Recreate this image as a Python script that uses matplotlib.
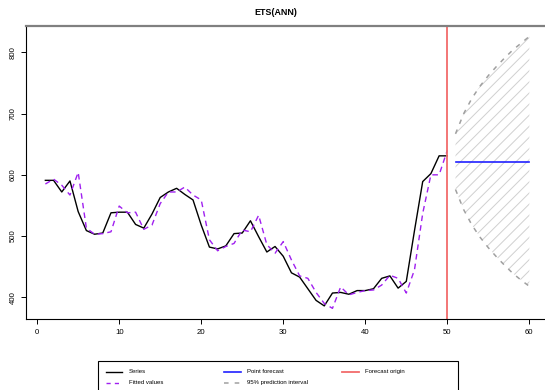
import numpy as np
import matplotlib
matplotlib.use("Agg")
import matplotlib.pyplot as plt
from matplotlib.lines import Line2D
from matplotlib.patches import Rectangle

plt.rcParams["font.family"] = ["Liberation Sans", "DejaVu Sans"]
plt.rcParams["hatch.linewidth"] = 0.7

# observed series, t = 1..50
series = [591, 591, 572, 590, 540, 509, 503, 505, 538, 539,
          539, 519, 513, 536, 563, 572, 578, 568, 559, 518,
          482, 479, 484, 504, 505, 525, 499, 474, 483, 467,
          440, 433, 414, 395, 386, 407, 408, 405, 411, 411,
          414, 431, 435, 415, 426, 509, 589, 602, 631, 631]
fitted = [585, 593, 583, 567, 604, 513, 503, 504, 507, 549,
          538, 539, 511, 518, 553, 572, 572, 580, 567, 559,
          494, 476, 483, 488, 510, 507, 534, 486, 472, 491,
          461, 435, 431, 408, 390, 382, 417, 404, 408, 411,
          412, 420, 436, 431, 407, 445, 537, 600, 600, 640]

# forecast horizon t = 51..60
point_fc = [621] * 10
upper = [667, 700, 725, 745, 762, 777, 791, 804, 815, 826]
lower = [576, 543, 518, 498, 481, 466, 452, 439, 428, 418]
origin = 50

t_in = np.arange(1, len(series) + 1)
t_fc = np.arange(origin + 1, origin + 1 + len(point_fc))

W, H = 545, 390
fig = plt.figure(figsize=(W / 100, H / 100), dpi=100)
ax = fig.add_axes([26 / W, (H - 319) / H, (548.7 - 26) / W, 293 / H])

ax.fill_between(t_fc, lower, upper, facecolor="none", edgecolor="#d0d0d0",
                hatch="///", linewidth=0)
ax.plot(t_fc, upper, color="#a0a0a0", lw=1.1, ls=(0, (3, 4)))
ax.plot(t_fc, lower, color="#a0a0a0", lw=1.1, ls=(0, (3, 4)))
ax.plot(t_fc, point_fc, color="#2020ff", lw=1.2)
ax.plot(t_in, series, color="black", lw=1.0)
ax.plot(t_in, fitted, color="#a020f0", lw=1.0, ls=(0, (4, 3)))
ax.axvline(origin, color="#f26b6b", lw=1.3)

ax.set_xlim(-1.36, 62.36)
ax.set_ylim(364.6, 843)
ax.set_xticks(np.arange(0, 61, 10))
ax.set_yticks(np.arange(400, 801, 100))
ax.tick_params(axis="x", labelsize=5.6, length=3.6, width=0.7, pad=3.5)
ax.tick_params(axis="y", labelsize=5.6, length=3.6, width=0.7, pad=3)
for lab in ax.get_yticklabels():
    lab.set_rotation(90)
    lab.set_va("center")
ax.spines["right"].set_visible(False)
ax.spines["top"].set_color("#808080")
ax.spines["top"].set_linewidth(1.6)
ax.spines["left"].set_linewidth(0.8)
ax.spines["bottom"].set_linewidth(0.8)

fig.text(276 / W, 1 - 12.3 / H, "ETS(ANN)", fontsize=6.4, fontweight="bold",
         ha="center", va="center")

# legend box (cut off at the bottom like the reference)
def fx(px):
    return px / W

def fy(py):
    return 1 - py / H

fig.add_artist(Rectangle((fx(98.3), fy(400)), fx(457.7) - fx(98.3), fy(361) - fy(400),
                         transform=fig.transFigure, facecolor="white",
                         edgecolor="black", lw=0.8, clip_on=False))
entries = [
    ("Series", dict(color="black", lw=1.0), 106, 371.7),
    ("Fitted values", dict(color="#a020f0", lw=1.0, ls=(0, (3, 3))), 106, 382.7),
    ("Point forecast", dict(color="#2020ff", lw=1.2), 224.3, 371.7),
    ("95% prediction interval", dict(color="#a0a0a0", lw=1.1, ls=(0, (3, 4))), 224.3, 382.7),
    ("Forecast origin", dict(color="#f26b6b", lw=1.3), 342.3, 371.7),
]
for label, style, x0, y0 in entries:
    fig.add_artist(Line2D([fx(x0), fx(x0 + 16.3)], [fy(y0), fy(y0)],
                          transform=fig.transFigure, **style))
    fig.text(fx(x0 + 23), fy(y0), label, fontsize=4.3, ha="left", va="center")

fig.savefig("out.png", dpi=100)
